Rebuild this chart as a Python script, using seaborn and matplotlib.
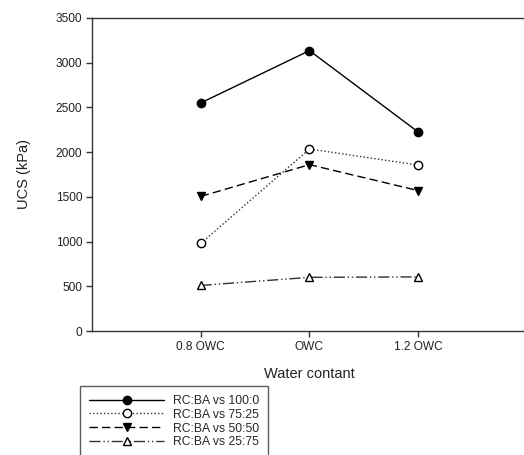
import matplotlib
matplotlib.use("Agg")
import matplotlib.pyplot as plt
import seaborn as sns
import pandas as pd

sns.set_style("ticks")
plt.rcParams["font.family"] = ["Liberation Sans", "DejaVu Sans"]

# Water content levels and UCS results (kPa) for each RC:BA blend
water_levels = ["0.8 OWC", "OWC", "1.2 OWC"]
ucs_100_0 = [2550, 3135, 2225]
ucs_75_25 = [980, 2035, 1855]
ucs_50_50 = [1505, 1860, 1570]
ucs_25_75 = [510, 600, 605]
series_labels = ["RC:BA vs 100:0", "RC:BA vs 75:25", "RC:BA vs 50:50", "RC:BA vs 25:75"]

positions = list(range(1, len(water_levels) + 1))
frames = []
for label, vals in zip(series_labels, [ucs_100_0, ucs_75_25, ucs_50_50, ucs_25_75]):
    frames.append(pd.DataFrame({"pos": positions, "ucs": vals, "mix": label}))
df = pd.concat(frames, ignore_index=True)

styles = {
    "RC:BA vs 100:0": dict(ls="-", marker="o", mfc="black", color="black"),
    "RC:BA vs 75:25": dict(ls=(0, (1, 1.6)), marker="o", mfc="white", color="#333333"),
    "RC:BA vs 50:50": dict(ls=(0, (6, 3)), marker="v", mfc="black", color="black"),
    "RC:BA vs 25:75": dict(ls=(0, (8, 2, 1, 2, 1, 2)), marker="^", mfc="white", color="#333333"),
}

fig = plt.figure(figsize=(5.24, 4.55), dpi=100)
ax = fig.add_axes([0.1756, 0.2725, 0.83, 0.688])

for label in series_labels:
    st = styles[label]
    sub = df[df["mix"] == label]
    sns.lineplot(data=sub, x="pos", y="ucs", ax=ax, color=st["color"],
                 linestyle=st["ls"], linewidth=1.0, marker=st["marker"],
                 markersize=6, markerfacecolor=st["mfc"],
                 markeredgecolor="black", markeredgewidth=1.0, label=label)

ax.set_xlim(0, 4)
ax.set_ylim(0, 3500)
ax.set_xticks(positions)
ax.set_xticklabels(water_levels)
ax.set_yticks(range(0, 3501, 500))
ax.tick_params(axis="both", labelsize=8.6, length=4, width=1, color="#333333",
               labelcolor="#222222", pad=3)
ax.set_xlabel("Water contant", fontsize=10.5, color="#222222", labelpad=10)
ax.set_ylabel("UCS (kPa)", fontsize=10.5, color="#222222", labelpad=18)
for side in ["left", "bottom", "top", "right"]:
    ax.spines[side].set_visible(True)
    ax.spines[side].set_color("#333333")
    ax.spines[side].set_linewidth(1.0)

handles, labels = ax.get_legend_handles_labels()
ax.legend_.remove()
leg = fig.legend(handles, labels, loc="upper left", bbox_to_anchor=(0.153, 0.152),
                 frameon=True, fancybox=False, fontsize=8.7, handlelength=6.2,
                 handletextpad=0.7, borderpad=0.75, labelspacing=0.15,
                 borderaxespad=0)
leg.get_frame().set_edgecolor("#333333")
leg.get_frame().set_linewidth(1.0)

fig.savefig("out.png", dpi=100)
